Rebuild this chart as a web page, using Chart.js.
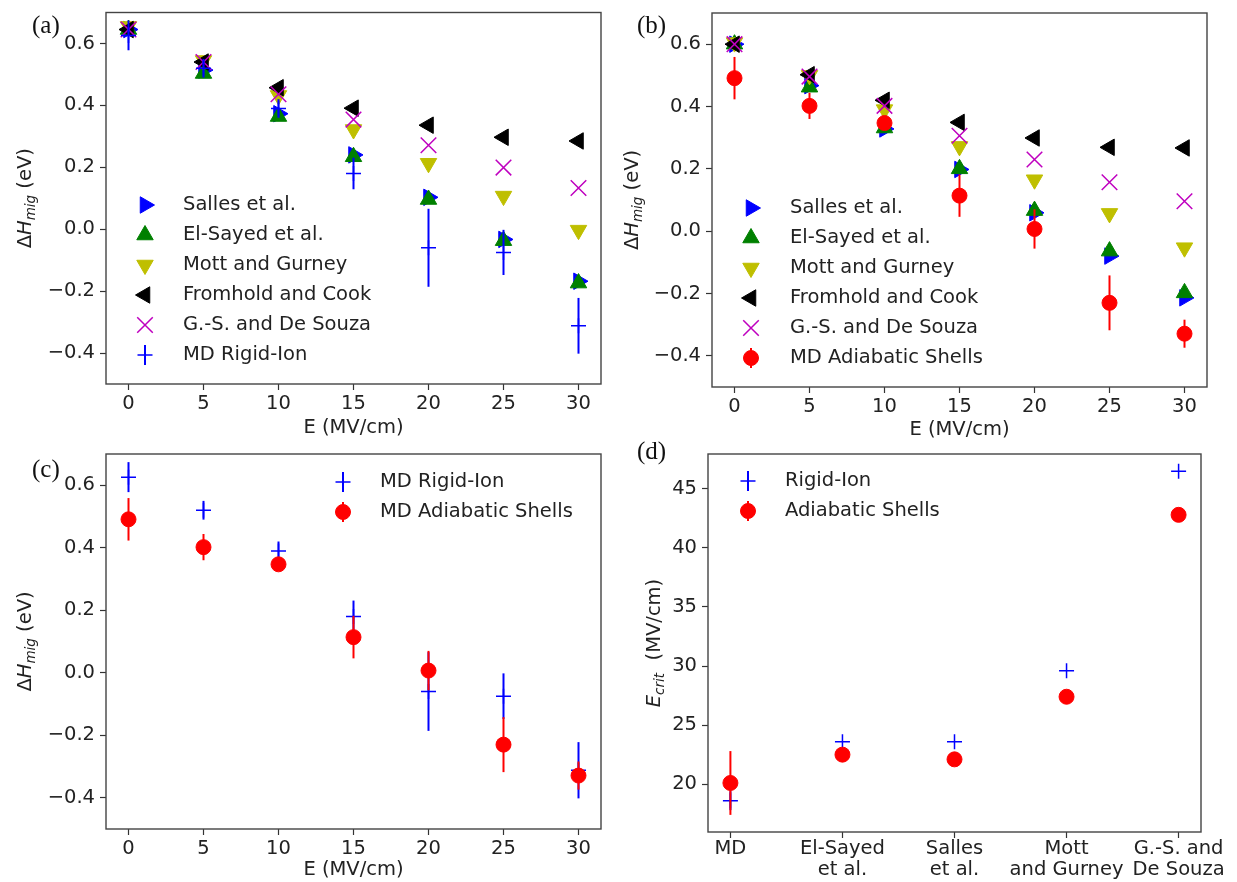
<!DOCTYPE html>
<html>
<head>
<meta charset="utf-8">
<script src="https://cdn.jsdelivr.net/npm/chart.js@4.4.0/dist/chart.umd.min.js"></script>
<style>
  body { margin:0; background:#fff; width:1237px; height:882px; position:relative; overflow:hidden; }
  canvas { position:absolute; }
  .tag { position:absolute; font-family:'Liberation Serif','DejaVu Serif',serif; font-size:25px; line-height:24px; color:#111; }
</style>
</head>
<body>
<canvas id="pa" width="618" height="441" style="left:0;top:0"></canvas>
<canvas id="pb" width="618" height="441" style="left:618px;top:0"></canvas>
<canvas id="pc" width="618" height="441" style="left:0;top:441px"></canvas>
<canvas id="pd" width="619" height="441" style="left:618px;top:441px"></canvas>
<div class="tag" style="left:32px;top:13px">(a)</div>
<div class="tag" style="left:637px;top:13px">(b)</div>
<div class="tag" style="left:32px;top:457px">(c)</div>
<div class="tag" style="left:637px;top:439px">(d)</div>
<script>
// field values and ticks
const eField = [0, 5, 10, 15, 20, 25, 30];
const hTicks = [-0.4, -0.2, 0.0, 0.2, 0.4, 0.6];
const refNames = ['Salles et al.', 'El-Sayed et al.', 'Mott and Gurney', 'Fromhold and Cook', 'G.-S. and De Souza'];

// (a) rigid-ion
const aSalles   = [0.645, 0.514, 0.373, 0.240, 0.103, -0.033, -0.168];
const aElSayed  = [0.645, 0.503, 0.364, 0.234, 0.096, -0.037, -0.174];
const aMott     = [0.655, 0.545, 0.432, 0.322, 0.213, 0.107, -0.003];
const aFromhold = [0.645, 0.540, 0.457, 0.391, 0.336, 0.297, 0.285];
const aGS       = [0.645, 0.540, 0.436, 0.354, 0.271, 0.199, 0.133];
const rigidMD   = [0.626, 0.520, 0.390, 0.180, -0.060, -0.075, -0.312];
const rigidErr  = [0.048, 0.030, 0.030, 0.051, 0.126, 0.073, 0.090];

// (b) adiabatic shells
const bSalles   = [0.600, 0.467, 0.328, 0.198, 0.059, -0.080, -0.214];
const bElSayed  = [0.600, 0.462, 0.331, 0.200, 0.066, -0.064, -0.198];
const bMott     = [0.605, 0.500, 0.390, 0.272, 0.165, 0.057, -0.053];
const bFromhold = [0.600, 0.502, 0.420, 0.349, 0.299, 0.269, 0.267];
const bGS       = [0.600, 0.496, 0.402, 0.306, 0.230, 0.157, 0.096];
const shellMD   = [0.491, 0.402, 0.347, 0.114, 0.007, -0.230, -0.329];
const shellErr  = [0.068, 0.042, 0.020, 0.068, 0.063, 0.088, 0.045];

// (d) critical field
const methods      = [['MD'], ['El-Sayed', 'et al.'], ['Salles', 'et al.'], ['Mott', 'and Gurney'], ['G.-S. and', 'De Souza']];
const critRigid    = [18.6, 23.6, 23.6, 29.6, 46.5];
const critRigidErr = [0.8, 0, 0, 0, 0];
const critShell    = [20.1, 22.5, 22.1, 27.4, 42.8];
const critShellErr = [2.7, 0, 0, 0, 0];
const critTicks    = [20, 25, 30, 35, 40, 45];

const FONT = "'DejaVu Sans', sans-serif";
const FS = 19.5;
const INK = '#222';

const styles = {
  salles:   { color:'#0000ff', pointStyle:'triangle', rotation:90,  radius:9.5 },
  elsayed:  { color:'#008000', pointStyle:'triangle', rotation:0,   radius:9.5 },
  mott:     { color:'#bfbf00', pointStyle:'triangle', rotation:180, radius:9.5 },
  fromhold: { color:'#000000', pointStyle:'triangle', rotation:270, radius:9.5 },
  gs:       { color:'#bf00bf', pointStyle:'crossRot', rotation:0,   radius:11, line:1.5 },
  rigid:    { color:'#0000ff', pointStyle:'cross',    rotation:0,   radius:7.5, line:1.5 },
  shell:    { color:'#ff0000', pointStyle:'circle',   rotation:0,   radius:7.5 }
};

function ds(label, xs, ys, st, errs) {
  return {
    label: label,
    data: ys.map((v, i) => ({ x: xs[i], y: v })),
    errors: errs || null,
    pointStyle: st.pointStyle,
    rotation: st.rotation,
    pointRadius: st.radius,
    backgroundColor: st.color,
    borderColor: st.color,
    pointBorderWidth: st.line || 1,
    showLine: false,
    clip: false
  };
}

const fmtH = v => (v < 0 ? '\u2212' : '') + Math.abs(v).toFixed(1);

const panelPlugin = {
  id: 'panel',
  beforeDatasetDraw(chart, args) {
    const d = chart.data.datasets[args.index];
    if (!d.errors) return;
    const { ctx, scales: { x, y } } = chart;
    ctx.save();
    ctx.strokeStyle = d.borderColor;
    ctx.lineWidth = 2;
    d.data.forEach((p, i) => {
      const e = d.errors[i];
      if (!e) return;
      const px = x.getPixelForValue(p.x);
      ctx.beginPath();
      ctx.moveTo(px, y.getPixelForValue(p.y - e));
      ctx.lineTo(px, y.getPixelForValue(p.y + e));
      ctx.stroke();
    });
    ctx.restore();
  },
  afterDraw(chart, args, opts) {
    const { ctx, chartArea: a } = chart;
    ctx.save();
    ctx.strokeStyle = '#444';
    ctx.lineWidth = 1.4;
    ctx.strokeRect(a.left, a.top, a.right - a.left, a.bottom - a.top);

    // y-axis title with subscript
    const parts = opts.yTitle;
    ctx.translate(opts.yTitleX, (a.top + a.bottom) / 2);
    ctx.rotate(-Math.PI / 2);
    ctx.fillStyle = INK;
    ctx.textBaseline = 'middle';
    ctx.textAlign = 'left';
    const fontOf = p => (p.italic ? 'italic ' : '') + (p.sub ? '13.5px ' : FS + 'px ') + FONT;
    let total = 0;
    parts.forEach(p => { ctx.font = fontOf(p); total += ctx.measureText(p.t).width; });
    let cx = -total / 2;
    parts.forEach(p => {
      ctx.font = fontOf(p);
      ctx.fillText(p.t, cx, p.sub ? 5 : 0);
      cx += ctx.measureText(p.t).width;
    });
    ctx.setTransform(1, 0, 0, 1, 0, 0);

    // legend
    const lg = opts.legend;
    chart.data.datasets.forEach((d, i) => {
      const ly = lg.y + i * lg.gap;
      ctx.strokeStyle = d.borderColor;
      ctx.fillStyle = d.backgroundColor;
      if (d.errors) {
        ctx.lineWidth = 2;
        ctx.beginPath();
        ctx.moveTo(lg.x, ly - 10);
        ctx.lineTo(lg.x, ly + 10);
        ctx.stroke();
      }
      ctx.lineWidth = d.pointBorderWidth;
      Chart.helpers.drawPoint(ctx, {
        pointStyle: d.pointStyle, rotation: d.rotation,
        radius: d.pointRadius, borderWidth: d.pointBorderWidth
      }, lg.x, ly);
      ctx.fillStyle = INK;
      ctx.font = FS + 'px ' + FONT;
      ctx.textBaseline = 'middle';
      ctx.textAlign = 'left';
      ctx.fillText(d.label, lg.textX, ly);
    });
    ctx.restore();
  }
};

function makePanel(id, cfg) {
  const datasets = cfg.datasets.map((d, i) => Object.assign(d, { order: cfg.datasets.length - i }));
  new Chart(document.getElementById(id), {
    type: 'scatter',
    data: { datasets: datasets },
    plugins: [panelPlugin],
    options: {
      responsive: false,
      animation: false,
      devicePixelRatio: 1,
      events: [],
      layout: { padding: { left: 0, right: cfg.padRight, top: cfg.padTop, bottom: 0 } },
      plugins: {
        legend: { display: false },
        tooltip: { enabled: false },
        panel: { yTitle: cfg.yTitle, yTitleX: cfg.yTitleX, legend: cfg.legend }
      },
      scales: {
        x: {
          type: 'linear',
          min: cfg.xMin, max: cfg.xMax,
          afterBuildTicks: ax => { ax.ticks = cfg.xTicks.map(v => ({ value: v })); },
          afterFit: ax => { ax.height = cfg.xHeight; ax.paddingLeft = 0; ax.paddingRight = 0; },
          grid: { drawOnChartArea: false, drawTicks: true, tickLength: 6, tickColor: '#333', tickWidth: 1.2 },
          border: { display: false },
          ticks: { color: INK, font: { family: FONT, size: FS, lineHeight: cfg.xLineHeight || 1.18 },
                   padding: cfg.xPad === undefined ? 2 : cfg.xPad, maxRotation: 0, autoSkip: false,
                   callback: cfg.xFmt },
          title: cfg.xTitle
            ? { display: true, text: cfg.xTitle, color: INK, font: { family: FONT, size: FS, lineHeight: 1.0 }, padding: { top: 0, bottom: cfg.xTitlePad } }
            : { display: false }
        },
        y: {
          type: 'linear',
          min: cfg.yMin, max: cfg.yMax,
          afterBuildTicks: ax => { ax.ticks = cfg.yTicks.map(v => ({ value: v })); },
          afterFit: ax => { ax.width = cfg.yWidth; ax.paddingTop = 0; ax.paddingBottom = 0; },
          grid: { drawOnChartArea: false, drawTicks: true, tickLength: 6, tickColor: '#333', tickWidth: 1.2 },
          border: { display: false },
          ticks: { color: INK, font: { family: FONT, size: FS }, padding: 5, autoSkip: false, callback: cfg.yFmt }
        }
      }
    }
  });
}

const hTitle = [{ t: '\u0394' }, { t: 'H', italic: true }, { t: 'mig', italic: true, sub: true }, { t: ' (eV)' }];

makePanel('pa', {
  datasets: [
    ds(refNames[0], eField, aSalles, styles.salles),
    ds(refNames[1], eField, aElSayed, styles.elsayed),
    ds(refNames[2], eField, aMott, styles.mott),
    ds(refNames[3], eField, aFromhold, styles.fromhold),
    ds(refNames[4], eField, aGS, styles.gs),
    ds('MD Rigid-Ion', eField, rigidMD, styles.rigid, rigidErr)
  ],
  padRight: 17, padTop: 10, yWidth: 106, xHeight: 57,
  xMin: -1.5, xMax: 31.5, xTicks: eField, xFmt: v => String(v), xTitle: 'E (MV/cm)', xTitlePad: 3,
  yMin: -0.5, yMax: 0.7, yTicks: hTicks, yFmt: fmtH,
  yTitle: hTitle, yTitleX: 26,
  legend: { x: 145, textX: 183, y: 205, gap: 30 }
});

makePanel('pb', {
  datasets: [
    ds(refNames[0], eField, bSalles, styles.salles),
    ds(refNames[1], eField, bElSayed, styles.elsayed),
    ds(refNames[2], eField, bMott, styles.mott),
    ds(refNames[3], eField, bFromhold, styles.fromhold),
    ds(refNames[4], eField, bGS, styles.gs),
    ds('MD Adiabatic Shells', eField, shellMD, styles.shell, shellErr)
  ],
  padRight: 29, padTop: 13, yWidth: 94, xHeight: 54,
  xMin: -1.5, xMax: 31.5, xTicks: eField, xFmt: v => String(v), xTitle: 'E (MV/cm)', xTitlePad: 1,
  yMin: -0.5, yMax: 0.7, yTicks: hTicks, yFmt: fmtH,
  yTitle: hTitle, yTitleX: 15,
  legend: { x: 133, textX: 172, y: 208, gap: 30 }
});

makePanel('pc', {
  datasets: [
    ds('MD Rigid-Ion', eField, rigidMD, styles.rigid, rigidErr),
    ds('MD Adiabatic Shells', eField, shellMD, styles.shell, shellErr)
  ],
  padRight: 17, padTop: 13, yWidth: 106, xHeight: 53,
  xMin: -1.5, xMax: 31.5, xTicks: eField, xFmt: v => String(v), xTitle: 'E (MV/cm)', xTitlePad: 2,
  yMin: -0.5, yMax: 0.7, yTicks: hTicks, yFmt: fmtH,
  yTitle: hTitle, yTitleX: 26,
  legend: { x: 343, textX: 380, y: 41, gap: 30 }
});

const methodIdx = methods.map((m, i) => i);
makePanel('pd', {
  datasets: [
    ds('Rigid-Ion', methodIdx, critRigid, styles.rigid, critRigidErr),
    ds('Adiabatic Shells', methodIdx, critShell, styles.shell, critShellErr)
  ],
  padRight: 36, padTop: 13, yWidth: 90, xHeight: 50,
  xMin: -0.2, xMax: 4.2, xTicks: methodIdx, xFmt: v => methods[v], xLineHeight: 1.1, xPad: 0,
  yMin: 15.95, yMax: 47.95, yTicks: critTicks, yFmt: v => String(v),
  yTitle: [{ t: 'E', italic: true }, { t: 'crit', italic: true, sub: true }, { t: '  (MV/cm)' }], yTitleX: 37,
  legend: { x: 130, textX: 167, y: 40, gap: 30 }
});
</script>
</body>
</html>
